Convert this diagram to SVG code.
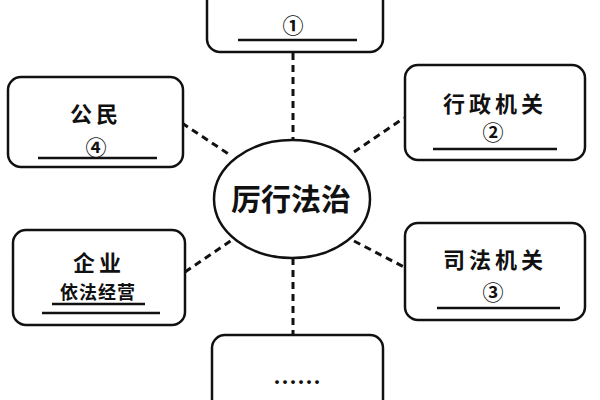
<svg xmlns="http://www.w3.org/2000/svg" width="600" height="400" viewBox="0 0 600 400">
<style>
.box{fill:#fff;stroke:#111;stroke-width:2.5}
.t{font-family:"Noto Sans CJK SC","Noto Sans",sans-serif;fill:#111;text-anchor:middle;dominant-baseline:central}
.lbl{font-size:22px;font-weight:bold;letter-spacing:4px}
.num{font-size:21px;font-weight:bold}
.ul{stroke:#111;stroke-width:2.5}
.dash{stroke:#111;stroke-width:3;stroke-dasharray:7 5;fill:none}
</style>
<rect width="600" height="400" fill="#fff"/>
<g id="connectors">
<line class="dash" x1="293" y1="53" x2="293" y2="140"/>
<line class="dash" x1="293" y1="258" x2="293" y2="335"/>
<line class="dash" x1="182" y1="123" x2="230" y2="155"/>
<line class="dash" x1="354" y1="152" x2="404" y2="118"/>
<line class="dash" x1="185" y1="272" x2="232" y2="240"/>
<line class="dash" x1="354" y1="241" x2="404" y2="267"/>
</g>
<g id="center">
<ellipse cx="292" cy="199" rx="78" ry="59" fill="#fff" stroke="#111" stroke-width="2.5"/>
<text class="t" x="291" y="197" font-size="30" font-weight="bold">厉行法治</text>
</g>
<g id="top">
<rect class="box" x="207" y="-40" width="176" height="92" rx="13"/>
<text class="t num" x="293" y="24">①</text>
<line class="ul" x1="238" y1="40" x2="357" y2="40"/>
</g>
<g id="citizen">
<rect class="box" x="8" y="77" width="175" height="90" rx="13"/>
<text class="t lbl" x="96" y="112">公民</text>
<text class="t num" x="96" y="146">④</text>
<line class="ul" x1="38" y1="158" x2="157" y2="158"/>
</g>
<g id="admin">
<rect class="box" x="405" y="65" width="180" height="95" rx="13"/>
<text class="t lbl" x="495" y="102">行政机关</text>
<text class="t num" x="493" y="131">②</text>
<line class="ul" x1="433" y1="149" x2="557" y2="149"/>
</g>
<g id="enterprise">
<rect class="box" x="13" y="230" width="172" height="95" rx="13"/>
<text class="t lbl" x="99" y="261">企业</text>
<text class="t" x="98" y="291" font-size="18" font-weight="bold" letter-spacing="1">依法经营</text>
<line class="ul" x1="52" y1="304" x2="145" y2="304"/>
<line class="ul" x1="42" y1="313" x2="160" y2="313"/>
</g>
<g id="judicial">
<rect class="box" x="405" y="223" width="180" height="97" rx="13"/>
<text class="t lbl" x="495" y="258">司法机关</text>
<text class="t num" x="493" y="291">③</text>
<line class="ul" x1="437" y1="308" x2="560" y2="308"/>
</g>
<g id="others">
<rect class="box" x="212" y="335" width="171" height="100" rx="13"/>
<text class="t" x="297" y="380" font-size="24" font-weight="bold">……</text>
</g>
</svg>
